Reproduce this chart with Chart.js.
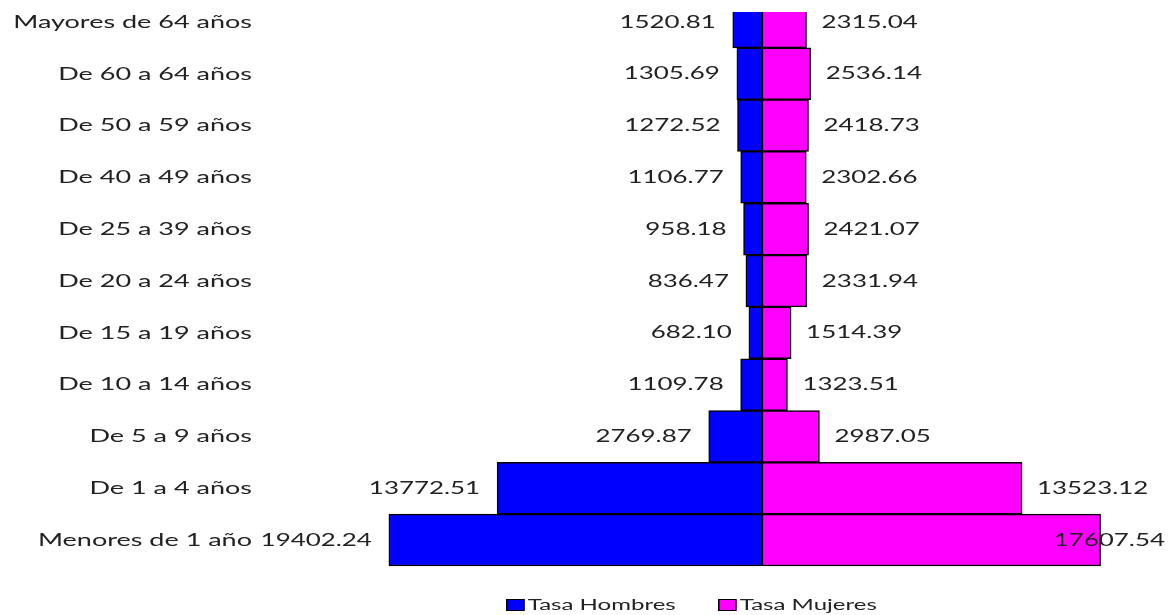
<!DOCTYPE html>
<html>
<head>
<meta charset="utf-8">
<script src="https://cdn.jsdelivr.net/npm/chart.js@4/dist/chart.umd.min.js"></script>
<style>
  html, body { margin: 0; padding: 0; background: #fff; overflow: hidden; }
  #wrap { position: absolute; left: 0; top: -4px; width: 1169px; height: 619px; }
  .legend { position: absolute; top: 595px; font: 15.5px Lato, sans-serif; color: #222; white-space: nowrap;
            transform: scaleX(1.55); transform-origin: 0 0; }
  .legend .box { display: inline-block; width: 10px; height: 10px; border: 1px solid #000; vertical-align: -1px; margin-right: 2px; }
</style>
</head>
<body>
<div id="wrap"><canvas id="chart"></canvas></div>
<div class="legend" style="left:506px"><span class="box" style="background:#0000ff"></span>Tasa Hombres</div>
<div class="legend" style="left:718px"><span class="box" style="background:#ff00ff"></span>Tasa Mujeres</div>
<script>
// ---------- Datos ----------
const GRUPOS = [
  "Mayores de 64 años", "De 60 a 64 años", "De 50 a 59 años", "De 40 a 49 años",
  "De 25 a 39 años", "De 20 a 24 años", "De 15 a 19 años", "De 10 a 14 años",
  "De 5 a 9 años", "De 1 a 4 años", "Menores de 1 año",
];
const TASA_HOMBRES = [1520.81, 1305.69, 1272.52, 1106.77, 958.18, 836.47, 682.10, 1109.78, 2769.87, 13772.51, 19402.24];
const TASA_MUJERES = [2315.04, 2536.14, 2418.73, 2302.66, 2421.07, 2331.94, 1514.39, 1323.51, 2987.05, 13523.12, 17607.54];

// el texto del original sale ensanchado horizontalmente
const NUM_FONT = "17.5px Lato, sans-serif";
const NUM_STRETCH = 1.48;
const CAT_FONT = "18px Lato, sans-serif";
const CAT_STRETCH = 1.5;

function stretchedText(ctx, txt, x, y, sx, align) {
  ctx.save();
  ctx.translate(x, y);
  ctx.scale(sx, 1);
  ctx.textAlign = align;
  ctx.fillText(txt, 0, 0);
  ctx.restore();
}

// etiquetas de grupo (eje y)
const groupLabels = {
  id: "groupLabels",
  afterDraw(chart) {
    const { ctx } = chart;
    const y = chart.scales.y;
    ctx.save();
    ctx.font = CAT_FONT;
    ctx.fillStyle = "#222";
    ctx.textBaseline = "middle";
    y.getLabels().forEach((lab, i) => {
      stretchedText(ctx, lab, y.right - 10, y.getPixelForValue(i), CAT_STRETCH, "right");
    });
    ctx.restore();
  },
};

// valores al final de cada barra
const valueLabels = {
  id: "valueLabels",
  afterDatasetsDraw(chart) {
    const { ctx } = chart;
    ctx.save();
    ctx.font = NUM_FONT;
    ctx.fillStyle = "#222";
    ctx.textBaseline = "middle";
    chart.data.datasets.forEach((ds, di) => {
      chart.getDatasetMeta(di).data.forEach((bar, i) => {
        const v = ds.data[i];
        const txt = Math.abs(v).toFixed(2);
        if (v < 0) {
          stretchedText(ctx, txt, bar.x - 17, bar.y, NUM_STRETCH, "right");
        } else {
          const w = ctx.measureText(txt).width * NUM_STRETCH;
          const x = Math.min(bar.x + 15, chart.width - 4 - w);
          stretchedText(ctx, txt, x, bar.y, NUM_STRETCH, "left");
        }
      });
    });
    ctx.restore();
  },
};

const barStyle = {
  borderColor: "#000",
  borderWidth: 1.5,
  borderSkipped: false,
  barPercentage: 1,
  categoryPercentage: 1,
  clip: { left: false, right: false, top: -16, bottom: false },
};

new Chart(document.getElementById("chart"), {
  type: "bar",
  data: {
    labels: GRUPOS,
    datasets: [
      { label: "Tasa Hombres", data: TASA_HOMBRES.map((v) => -v), backgroundColor: "#0000ff", ...barStyle },
      { label: "Tasa Mujeres", data: TASA_MUJERES, backgroundColor: "#ff00ff", ...barStyle },
    ],
  },
  options: {
    indexAxis: "y",
    responsive: true,
    maintainAspectRatio: false,
    animation: false,
    layout: { padding: { top: 0, right: 0, bottom: 49, left: 0 } },
    plugins: { legend: { display: false }, tooltip: { enabled: false } },
    scales: {
      x: { type: "linear", stacked: true, min: -26000, max: 21165, display: false },
      y: {
        stacked: true,
        grid: { display: false, drawTicks: false },
        border: { display: false },
        ticks: { display: false },
        afterFit: (s) => { s.width = 262; },
      },
    },
  },
  plugins: [valueLabels, groupLabels],
});
</script>
</body>
</html>
